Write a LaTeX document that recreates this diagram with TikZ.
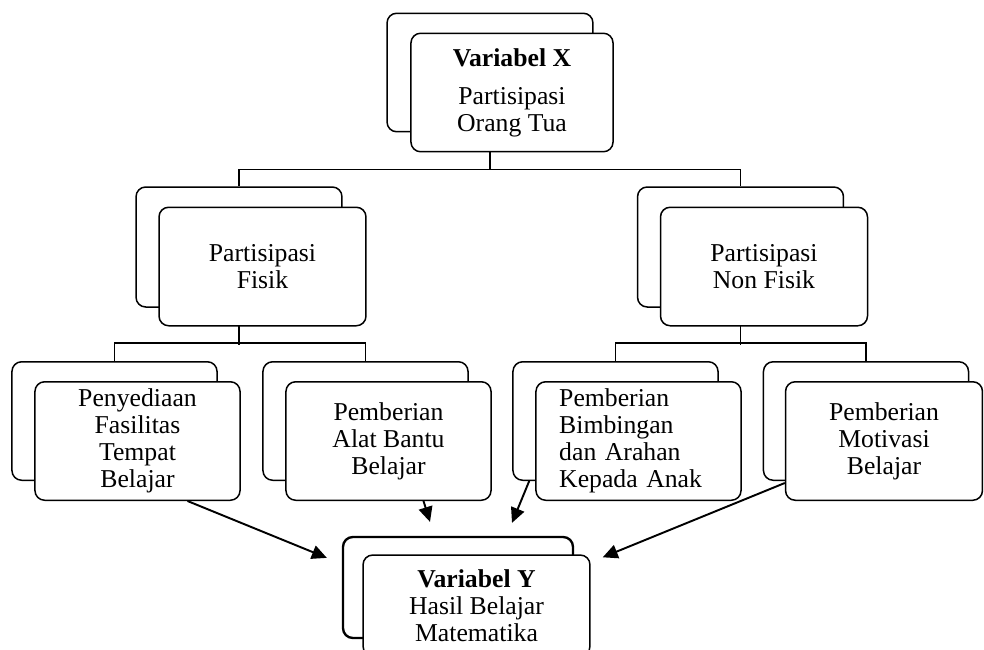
\documentclass[tikz,border=0pt]{standalone}
\usepackage{fontspec}
\setmainfont{Liberation Serif}
\usetikzlibrary{arrows.meta, calc, backgrounds}

\tikzset{
  backbox/.style={draw, line width=0.7pt, rounded corners=4.5pt, fill=white,
    minimum width=95.7pt, minimum height=55.3pt, inner sep=0pt},
  frontbox/.style={backbox, align=center},
  link/.style={line width=0.5pt},
  toY/.style={line width=0.9pt, -{Triangle[length=7pt,width=6.5pt]}}
}

\begin{document}
\begin{tikzpicture}[x=0.4667pt, y=-0.4667pt, font=\fontsize{12}{12.6}\selectfont]
  \clip (0,0) rectangle (984,649);
  \useasboundingbox (0,0) rectangle (984,649);

  % variabel X
  \node[backbox, minimum width=96.1pt] (xback) at (490,72.5) {};
  \node[frontbox, minimum width=94.3pt] (xfront) at (512,92.5)
    {\textbf{Variabel X}\\[5pt]Partisipasi\\Orang Tua};

  % level 2
  \node[backbox, minimum width=96.1pt, minimum height=56pt] (fisikback) at (239,247) {};
  \node[frontbox, minimum width=96.6pt] (fisik) at (262.5,266.5) {Partisipasi\\Fisik};
  \node[backbox, minimum width=96.1pt, minimum height=56pt] (nonfisikback) at (740.5,247) {};
  \node[frontbox, minimum width=96.6pt] (nonfisik) at (764,266.5) {Partisipasi\\Non Fisik};

  % level 3
  \node[backbox] (aback) at (114.5,421) {};
  \node[frontbox] (afront) at (137.5,441) {Penyediaan\\Fasilitas\\Tempat\\Belajar};
  \node[backbox] (bback) at (365.5,421) {};
  \node[frontbox] (bfront) at (388.5,441) {Pemberian\\Alat Bantu\\Belajar};
  \node[backbox] (cback) at (615.5,421) {};
  \node[frontbox, align=left, text width=74pt] (cfront) at (638.5,441)
    {Pemberian\\Bimbingan\\dan Arahan\\Kepada Anak};
  \node[backbox] (dback) at (866,421) {};
  \node[frontbox, minimum width=91.9pt] (dfront) at (884,441) {Pemberian\\Motivasi\\Belajar};

  % variabel Y
  \node[backbox, line width=1.1pt, minimum width=107.3pt, minimum height=47.1pt] (yback) at (458,587.5) {};
  \node[frontbox, minimum width=105.9pt, minimum height=47.1pt] (yfront) at (476.5,605.5)
    {\textbf{Variabel Y}\\Hasil Belajar\\Matematika};

  \begin{scope}[on background layer]
    \draw[link] (xback.south) -- ++(0,38);
    \draw[link] (fisikback.north) -- ++(0,-17) -| (nonfisikback.north);
    \draw[link] (fisikback.south) -- ++(0,37);
    \draw[link] (aback.north) -- ++(0,-18) -| (bback.north);
    \draw[link] (nonfisikback.south) -- ++(0,37);
    \draw[link] (cback.north) -- ++(0,-18) -| (dback.north);
  \end{scope}

  \draw[toY] ($(afront.south)+(50,0)$) -- ($(yback.north west)+(-15,22)$);
  \draw[toY] ($(bfront.south)+(35,0)$) -- ($(yback.north)+(-28,-14)$);
  \draw[toY] ($(cback.south west)+(17,0)$) -- ($(yback.north)+(54,-13)$);
  \draw[toY] ($(dfront.south west)+(0,-18)$) -- ($(yfront.north east)+(12,3)$);
\end{tikzpicture}
\end{document}
